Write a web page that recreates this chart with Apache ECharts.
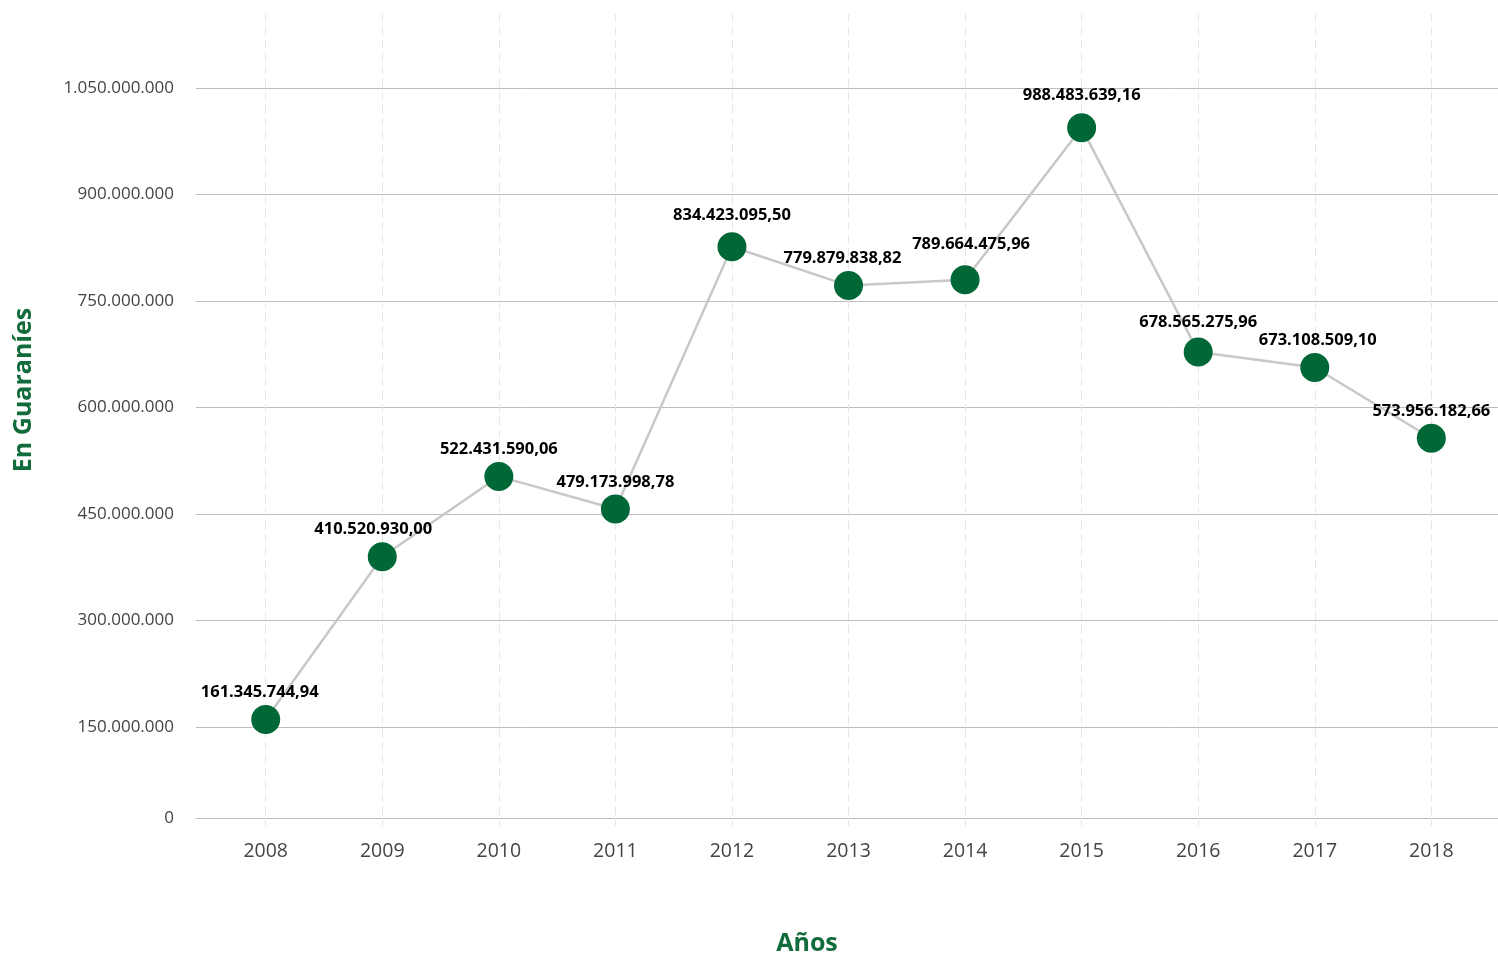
<!DOCTYPE html>
<html><head><meta charset="utf-8">
<script src="https://cdn.jsdelivr.net/npm/echarts@6/dist/echarts.min.js"></script>
<style>html,body{margin:0;padding:0;background:#fff;overflow:hidden}#c{width:1498px;height:961px}</style>
</head><body><div id="c"></div>
<script>
const years = [2008, 2009, 2010, 2011, 2012, 2013, 2014, 2015, 2016, 2017, 2018];
const values = [160.8e6, 389.8e6, 503.0e6, 457.2e6, 826.4e6, 771.7e6, 780.1e6, 993.9e6, 678.3e6, 656.3e6, 556.7e6];
const labelTexts = ['161.345.744,94', '410.520.930,00', '522.431.590,06', '479.173.998,78', '834.423.095,50', '779.879.838,82', '789.664.475,96', '988.483.639,16', '678.565.275,96', '673.108.509,10', '573.956.182,66'];
const yTickValues = [21.95e6, 150e6, 300e6, 450e6, 600e6, 750e6, 900e6, 1050e6];
const yTickLabels = ['0', '150.000.000', '300.000.000', '450.000.000', '600.000.000', '750.000.000', '900.000.000', '1.050.000.000'];
const xName = 'Años';
const yName = 'En Guaraníes';

// small label nudges (label collision avoidance as in the original)
const labelNudge = {0: [-6, 0], 1: [-9, 0], 4: [0, -4], 5: [-6, 0], 6: [6, -8], 7: [0, -6], 8: [0, -3], 9: [3, 0]};

const chart = echarts.init(document.getElementById('c'), null, {renderer: 'canvas'});
const FONT = 'Open Sans';
chart.setOption({
  animation: false,
  backgroundColor: '#ffffff',
  grid: {left: 196, right: 0, top: 14, bottom: 139.7, containLabel: false},
  xAxis: {
    type: 'value',
    min: 2007.402,
    max: 2018.572,
    name: xName,
    nameLocation: 'middle',
    nameGap: 113,
    nameTextStyle: {fontFamily: FONT, fontSize: 25, fontWeight: 'bold', color: '#126b3a', padding: [0, 80, 0, 0]},
    axisLine: {show: true, lineStyle: {color: '#bdbdbd', width: 1}},
    axisTick: {show: true, customValues: years, length: 13, lineStyle: {color: '#e6e6e6', type: [8, 5]}},
    axisLabel: {customValues: years, fontFamily: FONT, fontSize: 19.5, color: '#444', margin: 23, formatter: v => String(Math.round(v))},
    splitLine: {show: true, lineStyle: {color: '#e6e6e6', width: 1, type: [8, 5]}}
  },
  yAxis: {
    type: 'value',
    min: 21.95e6,
    max: 1154.2e6,
    name: yName,
    nameLocation: 'middle',
    nameRotate: 90,
    nameGap: 160,
    nameTextStyle: {fontFamily: FONT, fontSize: 25, fontWeight: 'bold', color: '#126b3a', padding: [0, 0, 0, 52]},
    axisLine: {show: false},
    axisTick: {show: false, customValues: yTickValues},
    axisLabel: {
      customValues: yTickValues,
      fontFamily: FONT, fontSize: 17, color: '#444', margin: 22,
      formatter: v => { const i = yTickValues.findIndex(t => Math.abs(t - v) < 10); return i >= 0 ? yTickLabels[i] : ''; }
    },
    splitLine: {show: true, lineStyle: {color: '#bdbdbd', width: 1}}
  },
  series: [{
    type: 'line',
    data: years.map((y, i) => {
      const item = {value: [y, values[i]]};
      if (labelNudge[i]) item.label = {offset: labelNudge[i]};
      return item;
    }),
    symbol: 'circle',
    symbolSize: 29,
    itemStyle: {color: '#006837'},
    lineStyle: {color: '#c8c8c8', width: 2.5},
    z: 5,
    label: {
      show: true, position: 'top', distance: 4,
      fontFamily: FONT, fontSize: 16.5, fontWeight: 'bold', color: '#000',
      formatter: p => labelTexts[p.dataIndex]
    }
  }]
});
</script></body></html>
